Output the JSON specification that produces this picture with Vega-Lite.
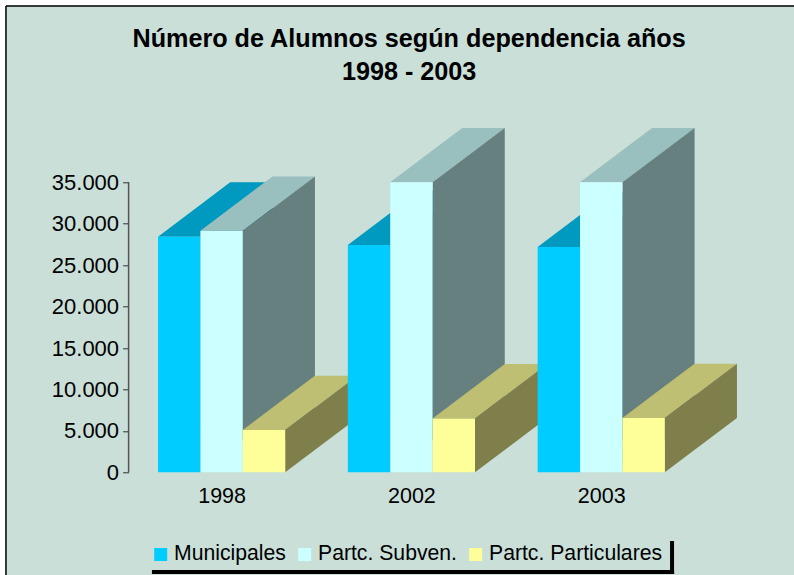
{
"$schema":"https://vega.github.io/schema/vega-lite/v6.json",
"width":615,"height":352,"autosize":"none",
"padding":{"left":128.6,"top":120.3,"right":50.4,"bottom":102.7},
"background":"#C9DFD8",
"config":{"view":{"stroke":null},"font":"Liberation Sans"},
"title":{"text":["Número de Alumnos según dependencia años","1998 - 2003"],"frame":"group","font":"Liberation Sans","fontSize":25.2,"fontWeight":"bold","color":"#000000","lineHeight":33,"anchor":"middle","dx":-27,"offset":0,"dy":88.5},
"layer":[
{"data":{"values":[
{"cara":"M98t","serie":"Municipales (techo)","x":0.665,"y":28440,"y2":28440},{"cara":"M98t","serie":"Municipales (techo)","x":0.8883,"y":28440,"y2":32298},{"cara":"M98t","serie":"Municipales (techo)","x":1.045,"y":31147,"y2":35005},{"cara":"M98t","serie":"Municipales (techo)","x":1.2683,"y":35005,"y2":35005},
{"cara":"M98l","serie":"Municipales (lado)","x":0.8883,"y":0,"y2":28440},{"cara":"M98l","serie":"Municipales (lado)","x":1.2683,"y":6565,"y2":35005},
{"cara":"M98f","serie":"Municipales","x":0.665,"y":0,"y2":28440},{"cara":"M98f","serie":"Municipales","x":0.8883,"y":0,"y2":28440},
{"cara":"S98t","serie":"Partc. Subven. (techo)","x":0.8883,"y":29150,"y2":29150},{"cara":"S98t","serie":"Partc. Subven. (techo)","x":1.1117,"y":29150,"y2":33008},{"cara":"S98t","serie":"Partc. Subven. (techo)","x":1.2683,"y":31857,"y2":35715},{"cara":"S98t","serie":"Partc. Subven. (techo)","x":1.4917,"y":35715,"y2":35715},
{"cara":"S98l","serie":"Partc. Subven. (lado)","x":1.1117,"y":0,"y2":29150},{"cara":"S98l","serie":"Partc. Subven. (lado)","x":1.4917,"y":6565,"y2":35715},
{"cara":"S98f","serie":"Partc. Subven.","x":0.8883,"y":0,"y2":29150},{"cara":"S98f","serie":"Partc. Subven.","x":1.1117,"y":0,"y2":29150},
{"cara":"P98t","serie":"Partc. Particulares (techo)","x":1.1117,"y":5100,"y2":5100},{"cara":"P98t","serie":"Partc. Particulares (techo)","x":1.335,"y":5100,"y2":8958},{"cara":"P98t","serie":"Partc. Particulares (techo)","x":1.4917,"y":7807,"y2":11665},{"cara":"P98t","serie":"Partc. Particulares (techo)","x":1.715,"y":11665,"y2":11665},
{"cara":"P98l","serie":"Partc. Particulares (lado)","x":1.335,"y":0,"y2":5100},{"cara":"P98l","serie":"Partc. Particulares (lado)","x":1.715,"y":6565,"y2":11665},
{"cara":"P98f","serie":"Partc. Particulares","x":1.1117,"y":0,"y2":5100},{"cara":"P98f","serie":"Partc. Particulares","x":1.335,"y":0,"y2":5100},

{"cara":"M02t","serie":"Municipales (techo)","x":1.665,"y":27440,"y2":27440},{"cara":"M02t","serie":"Municipales (techo)","x":1.8883,"y":27440,"y2":31298},{"cara":"M02t","serie":"Municipales (techo)","x":2.045,"y":30147,"y2":34005},{"cara":"M02t","serie":"Municipales (techo)","x":2.2683,"y":34005,"y2":34005},
{"cara":"M02l","serie":"Municipales (lado)","x":1.8883,"y":0,"y2":27440},{"cara":"M02l","serie":"Municipales (lado)","x":2.2683,"y":6565,"y2":34005},
{"cara":"M02f","serie":"Municipales","x":1.665,"y":0,"y2":27440},{"cara":"M02f","serie":"Municipales","x":1.8883,"y":0,"y2":27440},
{"cara":"S02t","serie":"Partc. Subven. (techo)","x":1.8883,"y":35000,"y2":35000},{"cara":"S02t","serie":"Partc. Subven. (techo)","x":2.1117,"y":35000,"y2":38858},{"cara":"S02t","serie":"Partc. Subven. (techo)","x":2.2683,"y":37707,"y2":41565},{"cara":"S02t","serie":"Partc. Subven. (techo)","x":2.4917,"y":41565,"y2":41565},
{"cara":"S02l","serie":"Partc. Subven. (lado)","x":2.1117,"y":0,"y2":35000},{"cara":"S02l","serie":"Partc. Subven. (lado)","x":2.4917,"y":6565,"y2":41565},
{"cara":"S02f","serie":"Partc. Subven.","x":1.8883,"y":0,"y2":35000},{"cara":"S02f","serie":"Partc. Subven.","x":2.1117,"y":0,"y2":35000},
{"cara":"P02t","serie":"Partc. Particulares (techo)","x":2.1117,"y":6500,"y2":6500},{"cara":"P02t","serie":"Partc. Particulares (techo)","x":2.335,"y":6500,"y2":10358},{"cara":"P02t","serie":"Partc. Particulares (techo)","x":2.4917,"y":9207,"y2":13065},{"cara":"P02t","serie":"Partc. Particulares (techo)","x":2.715,"y":13065,"y2":13065},
{"cara":"P02l","serie":"Partc. Particulares (lado)","x":2.335,"y":0,"y2":6500},{"cara":"P02l","serie":"Partc. Particulares (lado)","x":2.715,"y":6565,"y2":13065},
{"cara":"P02f","serie":"Partc. Particulares","x":2.1117,"y":0,"y2":6500},{"cara":"P02f","serie":"Partc. Particulares","x":2.335,"y":0,"y2":6500},

{"cara":"M03t","serie":"Municipales (techo)","x":2.665,"y":27200,"y2":27200},{"cara":"M03t","serie":"Municipales (techo)","x":2.8883,"y":27200,"y2":31058},{"cara":"M03t","serie":"Municipales (techo)","x":3.045,"y":29907,"y2":33765},{"cara":"M03t","serie":"Municipales (techo)","x":3.2683,"y":33765,"y2":33765},
{"cara":"M03l","serie":"Municipales (lado)","x":2.8883,"y":0,"y2":27200},{"cara":"M03l","serie":"Municipales (lado)","x":3.2683,"y":6565,"y2":33765},
{"cara":"M03f","serie":"Municipales","x":2.665,"y":0,"y2":27200},{"cara":"M03f","serie":"Municipales","x":2.8883,"y":0,"y2":27200},
{"cara":"S03t","serie":"Partc. Subven. (techo)","x":2.8883,"y":35000,"y2":35000},{"cara":"S03t","serie":"Partc. Subven. (techo)","x":3.1117,"y":35000,"y2":38858},{"cara":"S03t","serie":"Partc. Subven. (techo)","x":3.2683,"y":37707,"y2":41565},{"cara":"S03t","serie":"Partc. Subven. (techo)","x":3.4917,"y":41565,"y2":41565},
{"cara":"S03l","serie":"Partc. Subven. (lado)","x":3.1117,"y":0,"y2":35000},{"cara":"S03l","serie":"Partc. Subven. (lado)","x":3.4917,"y":6565,"y2":41565},
{"cara":"S03f","serie":"Partc. Subven.","x":2.8883,"y":0,"y2":35000},{"cara":"S03f","serie":"Partc. Subven.","x":3.1117,"y":0,"y2":35000},
{"cara":"P03t","serie":"Partc. Particulares (techo)","x":3.1117,"y":6550,"y2":6550},{"cara":"P03t","serie":"Partc. Particulares (techo)","x":3.335,"y":6550,"y2":10408},{"cara":"P03t","serie":"Partc. Particulares (techo)","x":3.4917,"y":9257,"y2":13115},{"cara":"P03t","serie":"Partc. Particulares (techo)","x":3.715,"y":13115,"y2":13115},
{"cara":"P03l","serie":"Partc. Particulares (lado)","x":3.335,"y":0,"y2":6550},{"cara":"P03l","serie":"Partc. Particulares (lado)","x":3.715,"y":6565,"y2":13115},
{"cara":"P03f","serie":"Partc. Particulares","x":3.1117,"y":0,"y2":6550},{"cara":"P03f","serie":"Partc. Particulares","x":3.335,"y":0,"y2":6550}
]},
"mark":{"type":"area","orient":"vertical","opacity":1},
"encoding":{
"x":{"field":"x","type":"quantitative","scale":{"domain":[0.51,3.75],"nice":false,"zero":false},
 "axis":{"values":[1,2,3],"title":null,"grid":false,"domain":false,"ticks":false,"labelFont":"Liberation Sans","labelFontSize":21.5,"labelColor":"#000000","labelPadding":13,"labelExpr":"datum.value==1?'1998':datum.value==2?'2002':'2003'"}},
"y":{"field":"y","type":"quantitative","scale":{"domain":[0,42483],"nice":false},
 "axis":{"values":[0,5000,10000,15000,20000,25000,30000,35000],"title":null,"grid":false,"domain":false,"tickSize":6,"tickColor":"#333333","labelFont":"Liberation Sans","labelFontSize":22,"labelColor":"#000000","labelPadding":4,"labelExpr":"replace(format(datum.value,','),',','.')"}},
"y2":{"field":"y2"},
"detail":{"field":"cara"},
"color":{"field":"serie","type":"nominal",
 "scale":{"domain":["Municipales","Partc. Subven.","Partc. Particulares","Municipales (techo)","Municipales (lado)","Partc. Subven. (techo)","Partc. Subven. (lado)","Partc. Particulares (techo)","Partc. Particulares (lado)"],
 "range":["#00CCFF","#CCFFFF","#FFFF99","#0099BF","#006680","#99BFBF","#667F7F","#BFBF73","#7F7F4C"]},
 "legend":{"values":["Municipales","Partc. Subven.","Partc. Particulares"],"title":null,"orient":"none","direction":"horizontal","legendX":21.5,"legendY":423.5,"symbolType":"square","symbolSize":169,"symbolStrokeWidth":0,"symbolOpacity":1,"labelFont":"Liberation Sans","labelFontSize":21.2,"labelColor":"#000000","labelOffset":2.7,"columnPadding":8,"padding":0,"labelLimit":300}}
}},
{"data":{"values":[{"x":-0.154,"y":-12500,"y2":57000}]},"mark":{"type":"rule","color":"#FFFFFF","strokeWidth":6},"encoding":{"x":{"field":"x","type":"quantitative"},"y":{"field":"y","type":"quantitative"},"y2":{"field":"y2"}}},
{"data":{"values":[{"x":-0.17,"x2":4.03,"y":56700}]},"mark":{"type":"rule","color":"#FFFFFF","strokeWidth":6},"encoding":{"x":{"field":"x","type":"quantitative"},"x2":{"field":"x2"},"y":{"field":"y","type":"quantitative"}}},
{"data":{"values":[{"x":0.51,"y":0,"y2":35000}]},"mark":{"type":"rule","color":"#555555","strokeWidth":1.5},"encoding":{"x":{"field":"x","type":"quantitative"},"y":{"field":"y","type":"quantitative"},"y2":{"field":"y2"}}},
{"data":{"values":[{"x":-0.136,"y":-12500,"y2":56278}]},"mark":{"type":"rule","color":"#000000","strokeWidth":1.5},"encoding":{"x":{"field":"x","type":"quantitative"},"y":{"field":"y","type":"quantitative"},"y2":{"field":"y2"}}},
{"data":{"values":[{"x":-0.136,"x2":4.03,"y":56278}]},"mark":{"type":"rule","color":"#000000","strokeWidth":1.5},"encoding":{"x":{"field":"x","type":"quantitative"},"x2":{"field":"x2"},"y":{"field":"y","type":"quantitative"}}},
{"data":{"values":[{"x":0.633,"x2":3.384,"y":-12033}]},"mark":{"type":"rule","color":"#000000","strokeWidth":4},"encoding":{"x":{"field":"x","type":"quantitative"},"x2":{"field":"x2"},"y":{"field":"y","type":"quantitative"}}},
{"data":{"values":[{"x":3.373,"y":-12274,"y2":-8291}]},"mark":{"type":"rule","color":"#000000","strokeWidth":4},"encoding":{"x":{"field":"x","type":"quantitative"},"y":{"field":"y","type":"quantitative"},"y2":{"field":"y2"}}}
]
}
